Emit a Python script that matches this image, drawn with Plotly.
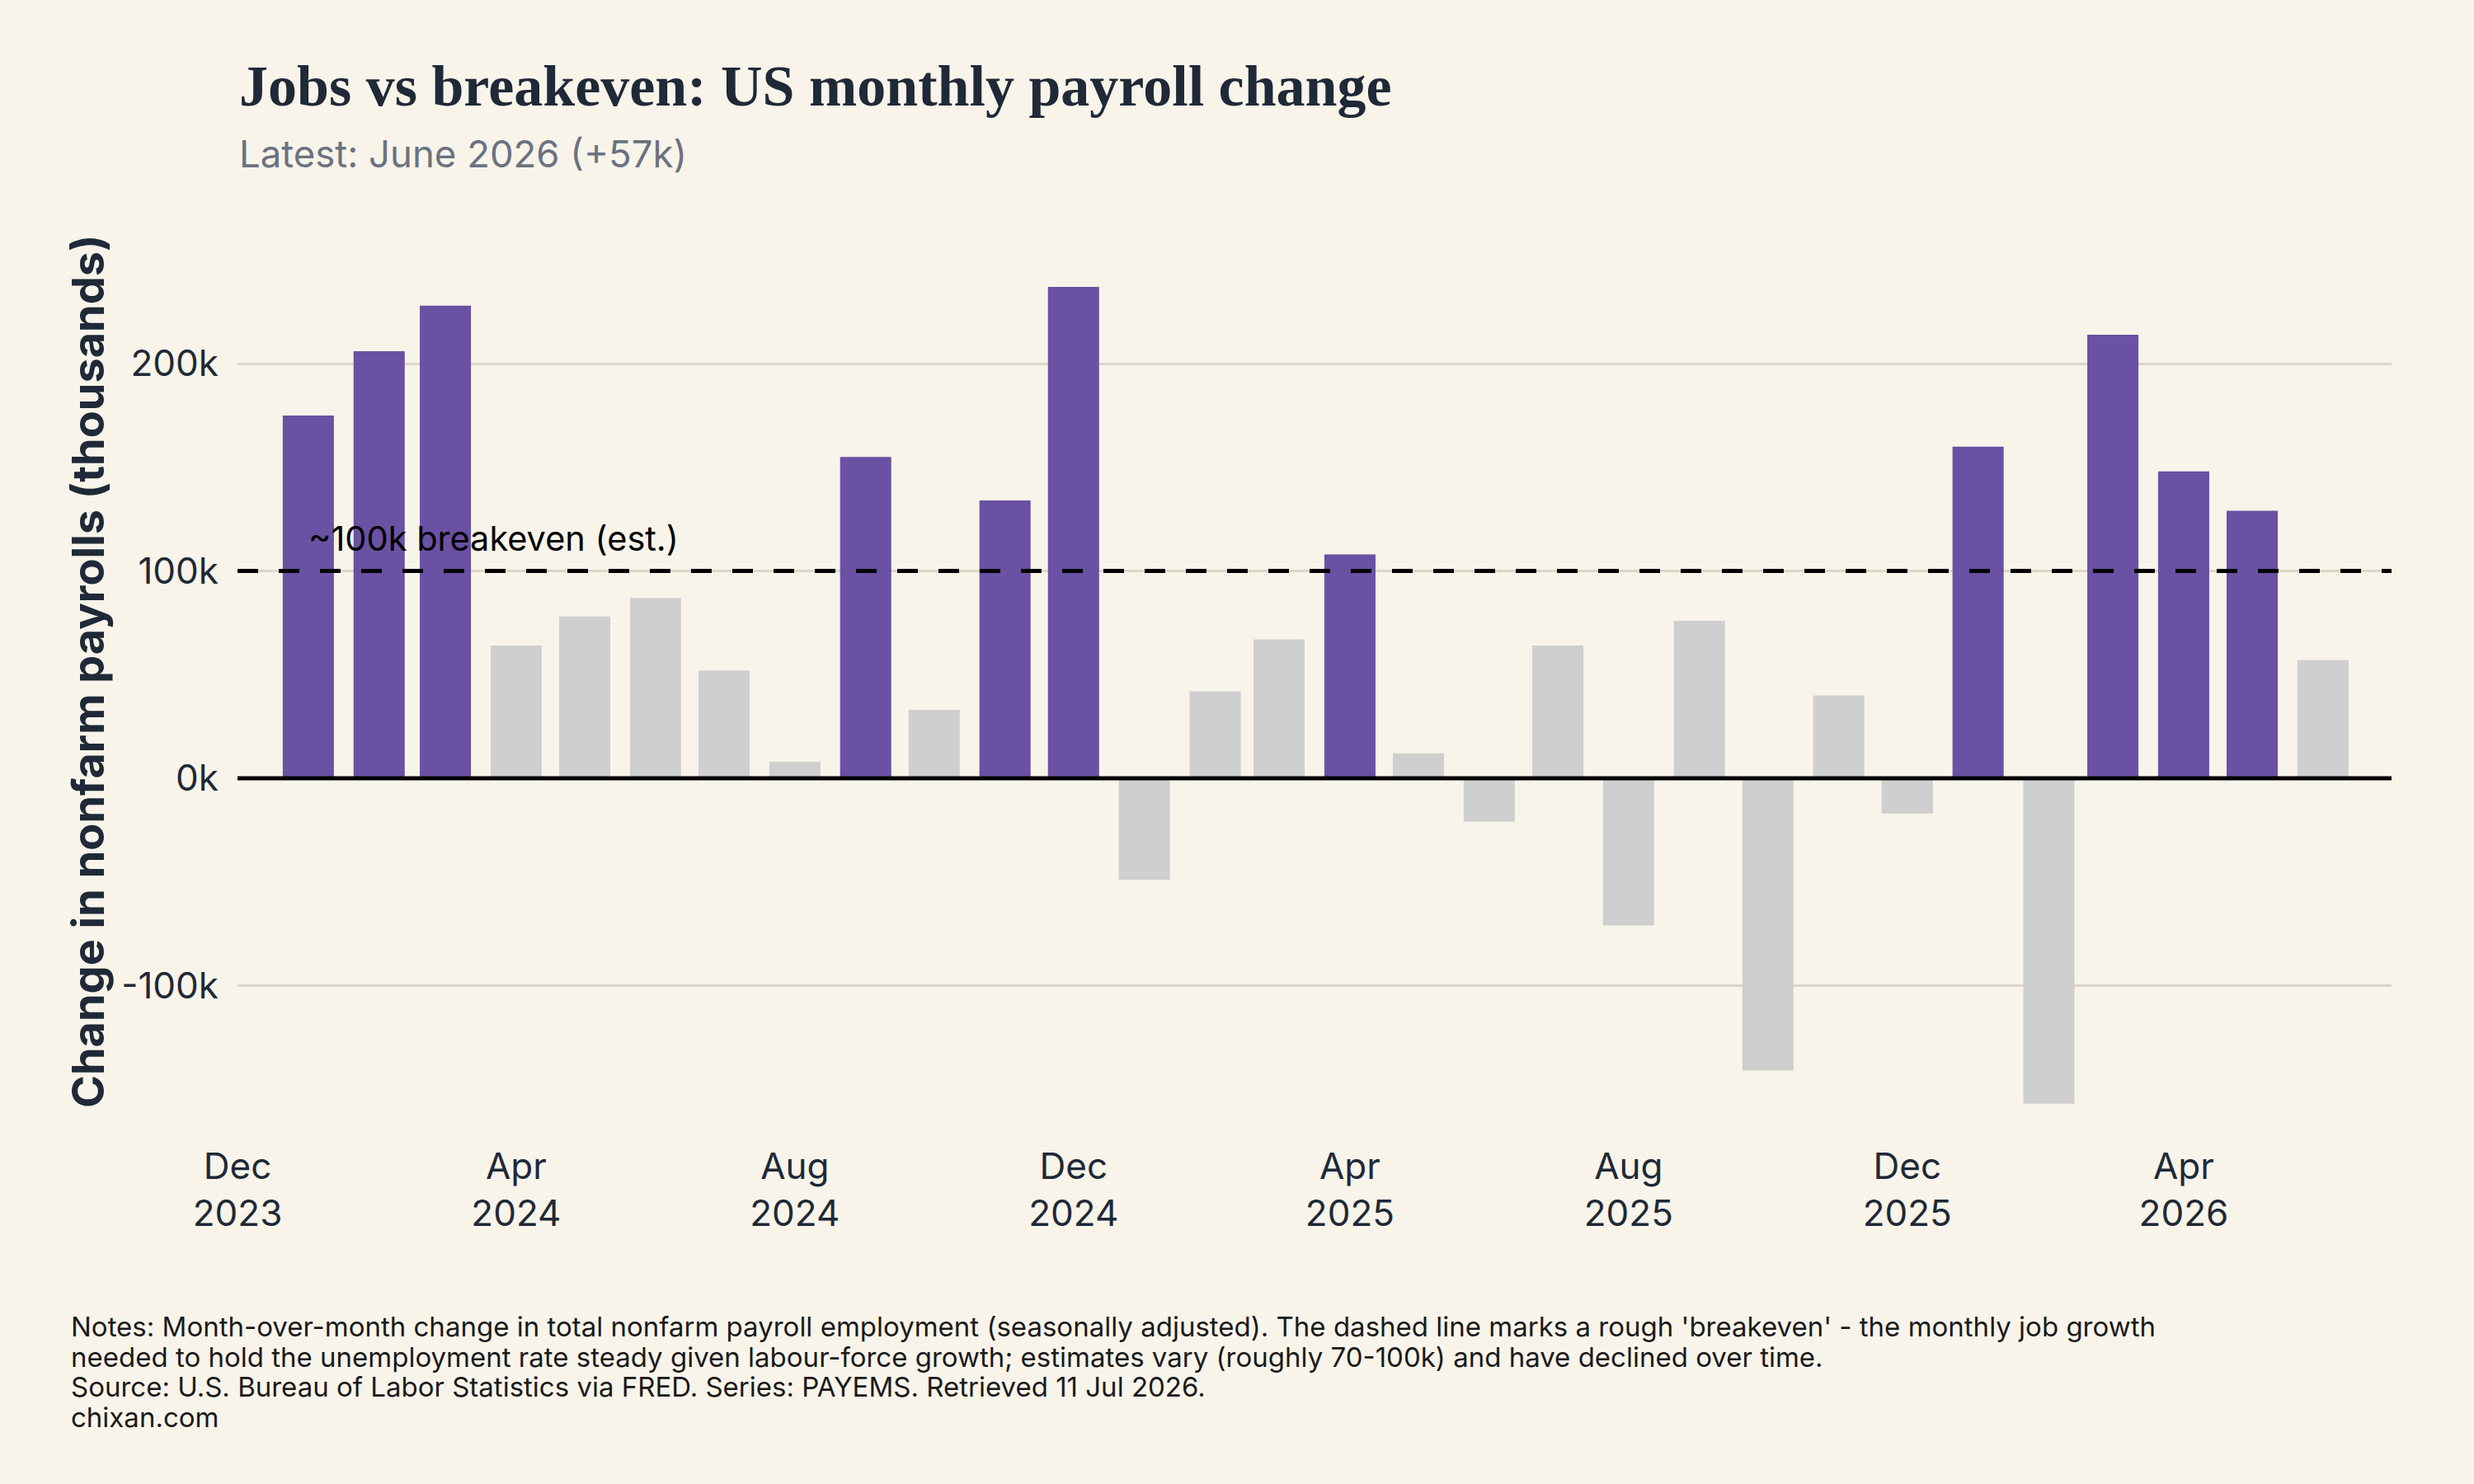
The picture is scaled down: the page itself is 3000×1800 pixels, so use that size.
import pandas as pd
import plotly.graph_objects as go

# ---- data ----
start_month = "2024-01-01"
payroll_change_k = [175, 206, 228, 64, 78, 87, 52, 8, 155, 33, 134, 237,
                    -49, 42, 67, 108, 12, -21, 64, -71, 76, -141, 40, -17,
                    160, -157, 214, 148, 129, 57]
months = pd.date_range(start_month, periods=len(payroll_change_k), freq="MS")
breakeven_k = 100

x_tickvals = ["2023-12-01", "2024-04-01", "2024-08-01", "2024-12-01",
              "2025-04-01", "2025-08-01", "2025-12-01", "2026-04-01"]
x_ticktext = ["Dec<br>2023", "Apr<br>2024", "Aug<br>2024", "Dec<br>2024",
              "Apr<br>2025", "Aug<br>2025", "Dec<br>2025", "Apr<br>2026"]
y_tickvals = [-100, 0, 100, 200]
y_ticktext = ["-100k", "0k", "100k", "200k"]

title_text = "Jobs vs breakeven: US monthly payroll change"
subtitle_text = "Latest: June 2026 (+57k)"
y_title_text = "Change in nonfarm payrolls (thousands)"
breakeven_label = "~100k breakeven (est.)"
notes_lines = [
    "Notes: Month-over-month change in total nonfarm payroll employment (seasonally adjusted). The dashed line marks a rough 'breakeven' - the monthly job growth",
    "needed to hold the unemployment rate steady given labour-force growth; estimates vary (roughly 70-100k) and have declined over time.",
    "Source: U.S. Bureau of Labor Statistics via FRED. Series: PAYEMS. Retrieved 11 Jul 2026.",
    "chixan.com",
]

# ---- style ----
BG = "#f8f4ea"
PURPLE = "#6a51a3"
GREY = "#cfcfcf"
DARK = "#1f2937"
SANS = "Inter, Roboto, sans-serif"
SERIF = "Liberation Serif, DejaVu Serif, serif"

colors = [PURPLE if v > breakeven_k else GREY for v in payroll_change_k]

fig = go.Figure()
fig.add_trace(go.Bar(x=months, y=payroll_change_k, marker=dict(color=colors, line=dict(width=0)),
                     hoverinfo="x+y", showlegend=False))

W, H = 3000, 1800
L, R, T, B = 288, 100, 253, 423
plot_h = H - T - B
plot_w = W - L - R


def py(Y):
    return (H - B - Y) / plot_h


def px(X):
    return (X - L) / plot_w


fig.update_layout(
    width=W, height=H,
    margin=dict(l=L, r=R, t=T, b=B),
    paper_bgcolor=BG, plot_bgcolor=BG,
    bargap=0.2,
    font=dict(family=SANS, color=DARK),
    xaxis=dict(
        type="date",
        range=["2023-12-01", "2026-07-01"],
        tickvals=x_tickvals, ticktext=x_ticktext,
        tickfont=dict(family=SANS, size=44, color=DARK),
        showgrid=False, zeroline=False, showline=False, ticks="",
        ticklabelstandoff=8,
    ),
    yaxis=dict(
        range=[-172.2, 274.8],
        tickvals=y_tickvals, ticktext=y_ticktext,
        tickfont=dict(family=SANS, size=44, color=DARK),
        showgrid=True, gridcolor="#dcd6c8", gridwidth=3,
        zeroline=False, showline=False, ticks="", ticklabelstandoff=22,
    ),
    shapes=[
        dict(type="line", xref="paper", x0=0, x1=1, yref="y", y0=breakeven_k, y1=breakeven_k,
             line=dict(color="black", width=5, dash="25px,25px"), layer="above"),
        dict(type="line", xref="paper", x0=0, x1=1, yref="y", y0=0, y1=0,
             line=dict(color="black", width=5), layer="above"),
    ],
)

annotations = [
    dict(text=f"<b>{title_text}</b>", xref="paper", yref="paper", x=px(288), y=py(127),
         xanchor="left", yanchor="bottom", yshift=-18, showarrow=False,
         font=dict(family=SERIF, size=70, color=DARK)),
    dict(text=subtitle_text, xref="paper", yref="paper", x=px(288), y=py(197),
         xanchor="left", yanchor="bottom", yshift=-19, showarrow=False,
         font=dict(family=SANS, size=45.5, color="#6b7280")),
    dict(text=f"<b>{y_title_text}</b>", xref="paper", yref="paper", x=px(106), y=py(815),
         xanchor="center", yanchor="middle", textangle=-90, showarrow=False,
         font=dict(family=SANS, size=54, color=DARK)),
    dict(text=breakeven_label, xref="x", yref="y", x=months[0], y=breakeven_k,
         xanchor="left", yanchor="bottom", xshift=-2, yshift=13, showarrow=False,
         font=dict(family=SANS, size=41.5, color="black")),
]
note_baselines = [1622, 1658.5, 1695, 1731.5]
for line, yb in zip(notes_lines, note_baselines):
    annotations.append(dict(text=line, xref="paper", yref="paper", x=px(84), y=py(yb),
                            xanchor="left", yanchor="bottom", yshift=-9, showarrow=False,
                            font=dict(family=SANS, size=33, color="#1a1a1a")))
fig.update_layout(annotations=annotations)

fig.write_html("out.html")
